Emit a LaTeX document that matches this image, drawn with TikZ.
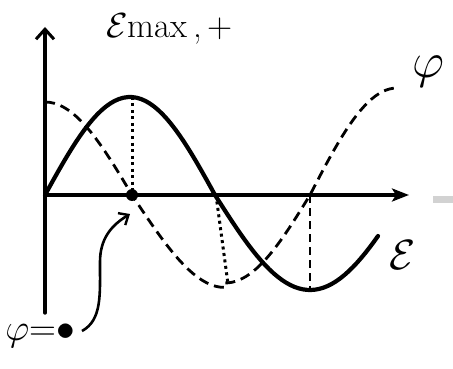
\documentclass[tikz,border=0pt]{standalone}
\usetikzlibrary{arrows.meta}
\begin{document}
\begin{tikzpicture}[x=1pt,y=-1pt,
  axisline/.style={line width=3.4pt,line cap=round},
  solidcurve/.style={line width=4.2pt,line cap=round},
  phicurve/.style={line width=2.8pt,dash pattern=on 10pt off 6pt},
  guideline/.style={line width=3pt,dash pattern=on 3pt off 3.5pt},
  guidedash/.style={line width=2.4pt,dash pattern=on 8pt off 5pt},
  lbl/.style={inner sep=0pt,font=\Huge}]
\useasboundingbox (0,0) rectangle (453,369);
% axes
\coordinate (O) at (45,195);
\coordinate (ytop) at (45,27);
\coordinate (ybot) at (45,313);
\coordinate (xend) at (409,195);
\draw[axisline,-{Straight Barb[length=10pt,width=18pt,line width=3pt]}] (ybot) -- (ytop);
\draw[axisline,-{Stealth[length=17pt,width=13pt,inset=4pt]}] (O) -- (xend);
% scan artefact bar
\fill[gray!35] (433,196) rectangle (453,203);
% solid curve (epsilon)
\draw[solidcurve] plot[domain=45:215,samples=40] (\x,{195-98*sin(1.05882*(\x-45))})
  -- plot[domain=215:378,samples=40] (\x,{195+95*sin(0.94737*(\x-215))});
% dashed curve (phi)
\draw[phicurve] plot[domain=45:225,samples=40] (\x,{195-93*cos(1.03448*(\x-45))+ (\x>132 ? -5*sin(1.93548*(\x-132)) : 0)})
  -- plot[domain=225:310,samples=25] (\x,{195+88*cos(1.05882*(\x-225))})
  -- plot[domain=310:397,samples=25] (\x,{195-107*sin(1.03448*(\x-310))});
% guides
\coordinate (m1) at (132,97);
\coordinate (z1) at (132,195);
\coordinate (z2) at (216,195);
\coordinate (b2) at (228,284);
\coordinate (z3) at (310,195);
\coordinate (b3) at (310,290);
\draw[guideline] (m1) -- (z1);
\draw[guideline] (z2) -- (b2);
\draw[guidedash] (z3) -- (b3);
% dot
\fill (z1) circle[radius=6pt];
% labels
\node[lbl,scale=1.4,anchor=base west] (ylab) at (106,38) {$\mathcal{E}$max\,,\,+};
\node[lbl,scale=2] (philab) at (428,72) {$\varphi$};
\node[lbl,scale=1.7] (epslab) at (403,255) {$\mathcal{E}$};
\node[lbl,scale=1.5] (phizero) at (40,336) {$\varphi$=$\bullet$};
\coordinate (arrstart) at (82,331);
\draw[line width=2.6pt,-{Straight Barb[length=8pt,width=14pt,line width=2.4pt]}] (arrstart) .. controls (102,320) and (100,295) .. (100,262) .. controls (100,238) and (112,225) .. (130,214);
\end{tikzpicture}
\end{document}
